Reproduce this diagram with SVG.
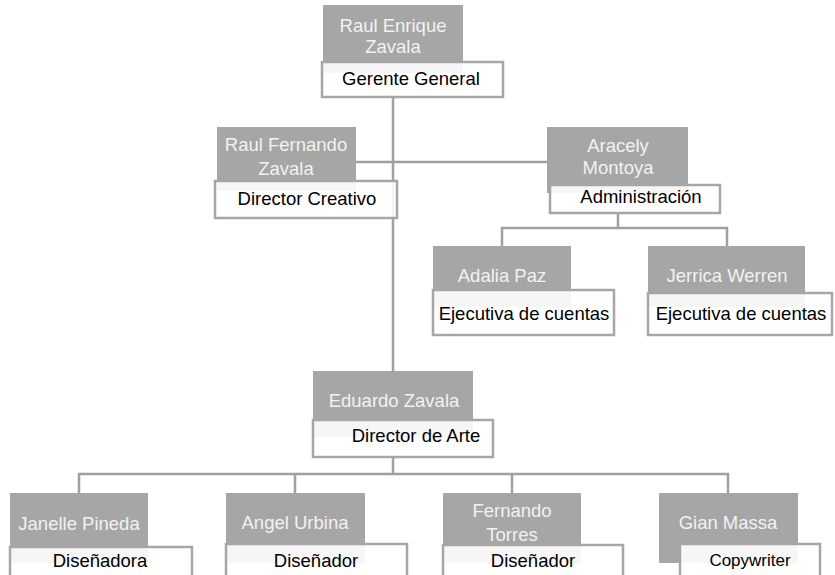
<svg xmlns="http://www.w3.org/2000/svg" width="835" height="575" viewBox="0 0 835 575">
<style>
.nm{fill:#a6a6a6;}
.tl{fill:#ffffff;fill-opacity:0.9;stroke:#a6a6a6;stroke-width:2.5;}
.nt{font-family:"Liberation Sans",Arial,sans-serif;font-size:18.5px;fill:#f2f2f2;text-anchor:middle;}
.tt{font-family:"Liberation Sans",Arial,sans-serif;font-size:18.5px;fill:#000000;text-anchor:middle;}
.cn{fill:none;stroke:#a0a0a0;stroke-width:2.5;}
</style>
<rect width="835" height="575" fill="#ffffff"/>
<g id="connectors">
<path class="cn" d="M393 97V371"/>
<path class="cn" d="M356 162H547"/>
<path class="cn" d="M618 213V228M502 246V228H727V246"/>
<path class="cn" d="M393 457V474M79 493V474H728V493M295 474V493M512 474V493"/>
</g>
<g id="n1">
<rect class="nm" x="323" y="5" width="140" height="68"/>
<rect class="tl" x="322" y="62" width="181" height="35"/>
<text class="nt" x="393" y="32">Raul Enrique</text>
<text class="nt" x="393" y="53">Zavala</text>
<text class="tt" x="411" y="85">Gerente General</text>
</g>
<g id="n2">
<rect class="nm" x="217" y="127" width="139" height="64"/>
<rect class="tl" x="215" y="181" width="182" height="37"/>
<text class="nt" x="286" y="151">Raul Fernando</text>
<text class="nt" x="286" y="175">Zavala</text>
<text class="tt" x="307" y="205">Director Creativo</text>
</g>
<g id="n3">
<rect class="nm" x="547" y="127" width="141" height="66"/>
<rect class="tl" x="550" y="185" width="170" height="28"/>
<text class="nt" x="618" y="152">Aracely</text>
<text class="nt" x="618" y="174">Montoya</text>
<text class="tt" x="641" y="203">Administración</text>
</g>
<g id="n4">
<rect class="nm" x="433" y="246" width="138" height="61"/>
<rect class="tl" x="433" y="290" width="181" height="45"/>
<text class="nt" x="502" y="282">Adalia Paz</text>
<text class="tt" x="524" y="320">Ejecutiva de cuentas</text>
</g>
<g id="n5">
<rect class="nm" x="648" y="246" width="157" height="61"/>
<rect class="tl" x="648" y="293" width="184" height="42"/>
<text class="nt" x="727" y="282">Jerrica Werren</text>
<text class="tt" x="741" y="320">Ejecutiva de cuentas</text>
</g>
<g id="n6">
<rect class="nm" x="313" y="371" width="160" height="66"/>
<rect class="tl" x="313" y="420" width="180" height="37"/>
<text class="nt" x="394" y="407">Eduardo Zavala</text>
<text class="tt" x="416" y="442">Director de Arte</text>
</g>
<g id="n7">
<rect class="nm" x="10" y="493" width="138" height="70"/>
<rect class="tl" x="10" y="547" width="182" height="40"/>
<text class="nt" x="79" y="530">Janelle Pineda</text>
<text class="tt" x="100" y="567">Diseñadora</text>
</g>
<g id="n8">
<rect class="nm" x="226" y="493" width="139" height="70"/>
<rect class="tl" x="226" y="544" width="181" height="40"/>
<text class="nt" x="295" y="529">Angel Urbina</text>
<text class="tt" x="316" y="567">Diseñador</text>
</g>
<g id="n9">
<rect class="nm" x="443" y="493" width="138" height="70"/>
<rect class="tl" x="443" y="545" width="180" height="40"/>
<text class="nt" x="512" y="517">Fernando</text>
<text class="nt" x="512" y="541">Torres</text>
<text class="tt" x="533" y="567">Diseñador</text>
</g>
<g id="n10">
<rect class="nm" x="659" y="493" width="139" height="70"/>
<rect class="tl" x="680" y="544" width="140" height="40"/>
<text class="nt" x="728" y="529">Gian Massa</text>
<text class="tt" x="750" y="566" style="font-size:17px">Copywriter</text>
</g>
</svg>
